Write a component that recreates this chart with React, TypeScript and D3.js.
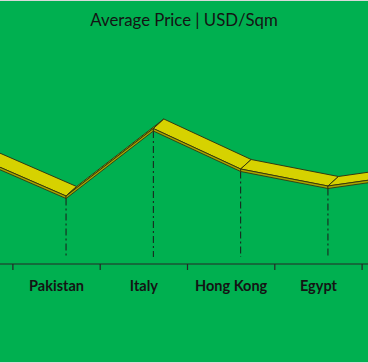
import React from 'react';
import * as d3 from 'd3';

// categories (first and last fall outside the visible crop)
const categories = ['Brazil', 'Pakistan', 'Italy', 'Hong Kong', 'Egypt', 'Turkey'];
const avgPrice = [10600, 6800, 13550, 9500, 7800, 9050];
const title = 'Average Price | USD/Sqm';

const W = 368;
const H = 363;
const axisY = 264;
const depthX = 10.5;
const depthY = -9.5;
const thick = 2.5;
const frontShift = 9.5;

const x = d3.scaleBand<string>().domain(categories).range([-74.4, 449.4]).padding(0);
const y = d3.scaleLinear().domain([0, 20000]).range([axisY, 64]);

function App() {
  const pts = categories.map((c, i) => ({
    name: c,
    x: (x(c) as number) + x.bandwidth() / 2 + frontShift,
    y: y(avgPrice[i]),
  }));

  const poly = d3.line<[number, number]>();
  const segs = d3.pairs(pts);
  const ticks = categories.map(c => x(c) as number).concat([(x(categories[categories.length - 1]) as number) + x.step()]);
  // only the labels that sit inside the visible area
  const shown = categories.filter(c => {
    const cx = (x(c) as number) + x.bandwidth() / 2;
    return cx > 0 && cx < W;
  });

  return (
    <svg width={W} height={H} style={{ position: 'absolute', left: 0, top: 0, display: 'block' }}>
      <rect x={0} y={0} width={W} height={H} fill="#00b050" />
      <line x1={0} x2={W} y1={0.5} y2={0.5} stroke="#d9d9d9" />
      <line x1={0} x2={W} y1={H - 0.5} y2={H - 0.5} stroke="#d9d9d9" />
      <text x={W / 2} y={26} textAnchor="middle" fontFamily="Lato" fontSize={16.8} fill="#141414">
        {title}
      </text>

      {/* drop lines */}
      {pts.map(p => (
        <line key={'d' + p.name} x1={p.x} x2={p.x} y1={p.y + thick} y2={257}
          stroke="#1a1a1a" strokeWidth={1} strokeDasharray="7,3,2,3" />
      ))}

      {/* axis */}
      <line x1={0} x2={W} y1={axisY} y2={axisY} stroke="#262626" strokeWidth={1.2} />
      {ticks.map((t, i) => (
        <line key={'t' + i} x1={t} x2={t} y1={axisY} y2={axisY + 6} stroke="#262626" strokeWidth={1.2} />
      ))}
      {shown.map(c => (
        <text key={'l' + c} x={(x(c) as number) + x.bandwidth() / 2} y={290.5} textAnchor="middle"
          fontFamily="Lato" fontWeight="bold" fontSize={14.5} fill="#141414">
          {c}
        </text>
      ))}

      {/* 3D ribbon */}
      {segs.map(([a, b], i) => (
        <g key={'s' + i}>
          <path
            d={poly([[a.x, a.y], [b.x, b.y], [b.x + depthX, b.y + depthY], [a.x + depthX, a.y + depthY]]) + 'Z'}
            fill="#d6d200" stroke="#2b2b10" strokeWidth={0.9} strokeLinejoin="round" />
          <path
            d={poly([[a.x, a.y], [b.x, b.y], [b.x, b.y + thick], [a.x, a.y + thick]]) + 'Z'}
            fill="#a9a500" stroke="#2b2b10" strokeWidth={0.8} strokeLinejoin="round" />
        </g>
      ))}
    </svg>
  );
}

export default App;
